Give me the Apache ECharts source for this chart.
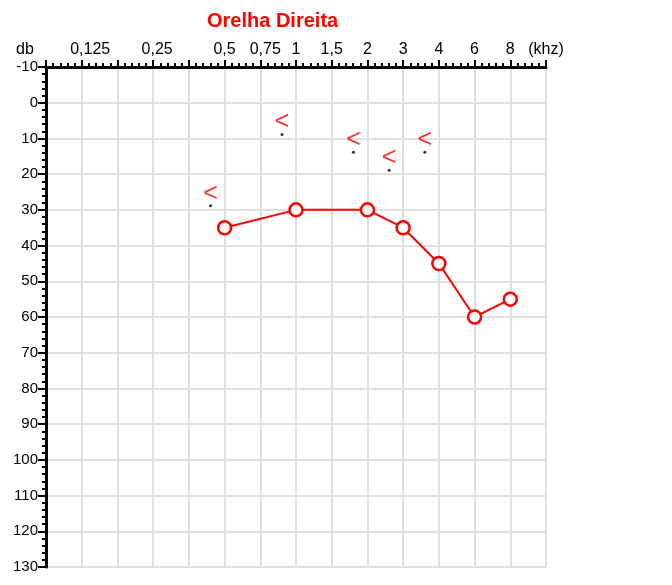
<!DOCTYPE html>
<html>
<head>
<meta charset="utf-8">
<script src="https://cdn.jsdelivr.net/npm/echarts@6/dist/echarts.min.js"></script>
<style>
html,body{margin:0;padding:0;background:#fff;}
#chart{width:672px;height:585px;}
</style>
</head>
<body>
<div id="chart"></div>
<script>
// Tick labels along the frequency axis (one per grid column line)
var xTickLabels = ['', '0,125', '', '0,25', '', '0,5', '0,75', '1', '1,5', '2', '3', '4', '6', '8', '(khz)'];
// Air conduction (line with open circles)
var airFreqs = ['0,5', '1', '2', '3', '4', '6', '8'];
var airDb = [35, 30, 30, 35, 45, 60, 55];
// Bone conduction (red "<" symbols)
var boneFreqs = ['0,5', '1', '2', '3', '4'];
var boneDb = [30, 10, 15, 20, 15];
// dB axis
var dbMin = -10, dbMax = 130, dbStep = 10;

var airData = airFreqs.map(function (f, i) { return [xTickLabels.indexOf(f), airDb[i]]; });
var boneData = boneFreqs.map(function (f, i) { return [xTickLabels.indexOf(f), boneDb[i]]; });

var chart = echarts.init(document.getElementById('chart'), null, {renderer: 'canvas'});
var font = '"Liberation Sans", Arial, sans-serif';
chart.setOption({
  animation: false,
  backgroundColor: '#fff',
  title: {
    text: 'Orelha Direita',
    left: 207, top: 11, padding: 0,
    textStyle: {color: '#ff0000', fontSize: 20, fontWeight: 'bold', fontFamily: font}
  },
  graphic: [{
    type: 'text', left: 16, top: 42,
    style: {text: 'db', fontSize: 16, fontFamily: font, fill: '#000'}
  }],
  grid: {left: 46, top: 67, width: 500, height: 500},
  xAxis: {
    type: 'value', position: 'top', min: 0, max: xTickLabels.length - 1, interval: 1,
    axisLine: {show: true, onZero: false, lineStyle: {color: '#000', width: 3}},
    axisTick: {show: true, length: 7, lineStyle: {color: '#000', width: 2}},
    minorTick: {show: true, splitNumber: 5, length: 4, lineStyle: {color: '#000', width: 2}},
    splitLine: {show: true, lineStyle: {color: '#e0e0e0', width: 2}},
    axisLabel: {
      margin: 9, fontSize: 16, color: '#000', fontFamily: font,
      formatter: function (v) {
        var t = xTickLabels[Math.round(v)] || '';
        if (t === '0,125') return '{a|' + t + '}';
        if (t === '0,25') return '{b|' + t + '}';
        if (t === '0,75') return '{c|' + t + '}';
        return t;
      },
      rich: {
        a: {fontSize: 16, fontFamily: font, color: '#000', padding: [0, 0, 0, 17]},
        b: {fontSize: 16, fontFamily: font, color: '#000', padding: [0, 0, 0, 8]},
        c: {fontSize: 16, fontFamily: font, color: '#000', padding: [0, 0, 0, 10]}
      }
    }
  },
  yAxis: {
    type: 'value', inverse: true, min: dbMin, max: dbMax, interval: dbStep,
    axisLine: {show: true, onZero: false, lineStyle: {color: '#000', width: 3}},
    axisTick: {show: true, length: 8, lineStyle: {color: '#000', width: 2}},
    minorTick: {show: true, splitNumber: 5, length: 4, lineStyle: {color: '#000', width: 2}},
    splitLine: {show: true, lineStyle: {color: '#e0e0e0', width: 2}},
    axisLabel: {margin: 8, fontSize: 15, color: '#000', fontFamily: font}
  },
  series: [{
    type: 'line', data: airData,
    symbol: 'circle', symbolSize: 13,
    lineStyle: {color: '#ff0000', width: 2},
    itemStyle: {color: '#fff', borderColor: '#ff0000', borderWidth: 2.5},
    z: 3
  }, {
    type: 'scatter', data: boneData,
    symbol: 'circle', symbolSize: 3, symbolOffset: [-14, -4],
    itemStyle: {color: '#000'},
    label: {
      show: true, formatter: '<', position: 'inside', offset: [0, -12],
      color: '#ff0000', fontSize: 25, fontFamily: font
    },
    z: 4
  }]
});
</script>
</body>
</html>
